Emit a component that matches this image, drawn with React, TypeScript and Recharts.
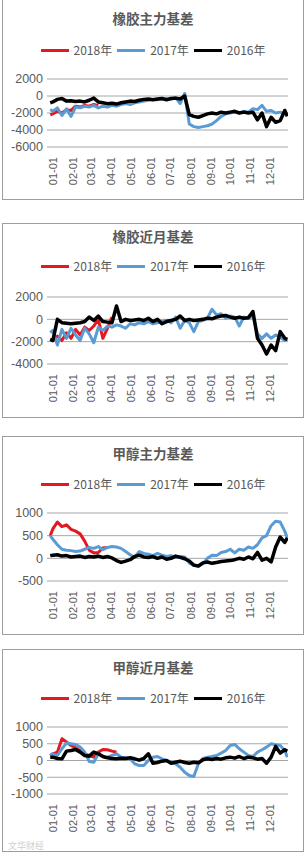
import React from "react";
import { CartesianGrid, Line, LineChart, XAxis, YAxis } from "recharts";

// day of year (0 = Jan 1), weekly samples plus the two edge points
const DAYS = [
  -4, 0, 7, 14, 21, 28, 35, 42, 49, 56, 63, 70, 77, 84, 91, 98, 105, 112, 119,
  126, 133, 140, 147, 154, 161, 168, 175, 182, 189, 196, 203, 210, 217, 224,
  231, 238, 245, 252, 259, 266, 273, 280, 287, 294, 301, 308, 315, 322, 329,
  336, 343, 350, 357, 361,
];

const MONTH_TICKS = [0, 31, 59, 90, 120, 151, 181, 212, 243, 273, 304, 334];
const MONTH_LABELS = [
  "01-01", "02-01", "03-01", "04-01", "05-01", "06-01",
  "07-01", "08-01", "09-01", "10-01", "11-01", "12-01",
];

const SERIES_NAMES = ["2018年", "2017年", "2016年"];
const SERIES_COLORS = ["#e3191f", "#5b9bd5", "#000000"];

// 橡胶主力基差
const RUBBER_MAIN_2018 = [-2200, -2100, -1800, -2000, -1600, -1700, -1200, -1300, -1100, -1200, -1000, -1100];
const RUBBER_MAIN_2017 = [
  -1600, -1800, -1400, -2300, -1500, -2400, -1300, -1400, -1200, -1300, -1100, -1400, -1200, -1300,
  -1100, -1200, -1000, -900, -1000, -800, -700, -600, -500, -400, -450, -350, -300, -350, -200, -900,
  300, -3300, -3600, -3700, -3600, -3500, -3300, -2900, -2400, -2100, -2000, -1900, -2000, -1800,
  -1900, -1500, -1600, -1100, -1800, -1700, -2000, -1900, -2100, -2000,
];
const RUBBER_MAIN_2016 = [
  -800, -700, -400, -300, -600, -550, -650, -600, -700, -500, -250, -700, -800, -900, -850, -950,
  -800, -700, -600, -650, -500, -400, -350, -450, -350, -300, -450, -300, -250, -350, 0, -2200,
  -2400, -2500, -2300, -2100, -2000, -2100, -1900, -2000, -1900, -1800, -2000, -1900, -2000,
  -1900, -2800, -2000, -3600, -2500, -3100, -2900, -1700, -2400,
];

// 橡胶近月基差
const RUBBER_NEAR_2018 = [-1800, -1900, -1500, -1900, -1200, -1700, -900, -1400, -700, -1000, -600, 0, -1700, -800, 200];
const RUBBER_NEAR_2017 = [
  -1200, -1000, -2300, -900, -1700, -800, -1400, -1900, -800, -1300, -2100, -700, -1000, -600,
  -700, -500, -600, -800, -400, -500, -300, -400, -200, -400, -300, -200, -100, -300, 200, -800,
  -100, -300, -1100, -200, -100, 100, 900, 400, 500, 100, 300, 200, -600, 200, 100, 300, -1300,
  -1700, -1300, -1700, -1400, -1600, -1900, -1800,
];
const RUBBER_NEAR_2016 = [
  -1800, -1900, 0, -300, -350, -400, -350, -300, -200, 200, -100, 300, -200, -250, -300, 1200,
  -200, 0, -100, -50, 0, -100, 100, -200, 0, -400, -200, -100, 0, 300, -100, 0, -100, -50, 0,
  100, 50, 200, 300, 350, 200, 100, 200, 100, 150, 700, -1700, -2300, -3100, -2300, -2800, -1100,
  -1700, -1800,
];

// 甲醇主力基差
const METHANOL_MAIN_2018 = [500, 650, 800, 700, 740, 640, 600, 540, 380, 180, 120, 130, 230, 240];
const METHANOL_MAIN_2017 = [
  500, 420, 300, 200, 180, 170, 150, 160, 200, 240, 220, 260, 190, 240, 260, 250, 220, 150, 80,
  20, 150, 110, 90, 60, 110, 70, 40, 60, 20, 40, 30, -100, -160, -170, -120, 0, 70, 60, 130, 150,
  200, 120, 200, 180, 250, 220, 300, 450, 500, 720, 820, 800, 600, 450,
];
const METHANOL_MAIN_2016 = [
  60, 70, 80, 50, 60, 30, 40, 50, 20, 40, 30, 50, 20, 40, 10, -50, -90, -60, -30, 40, 70, 30, 20,
  40, 0, 30, -20, 0, 50, 20, -10, -60, -150, -170, -100, -80, -110, -90, -70, -60, -50, -30, 0,
  -20, 30, -10, 130, -40, 0, -80, 250, 470, 350, 450,
];

// 甲醇近月基差
const METHANOL_NEAR_2018 = [150, 200, 250, 650, 550, 450, 380, 300, 200, 150, 100, 250, 330, 320, 280, 250];
const METHANOL_NEAR_2017 = [
  150, 200, 150, 350, 520, 500, 480, 400, 250, -30, -50, 200, 120, 100, 150, 200, 100, 80, 50,
  -100, -150, -150, 0, 100, 120, 50, 0, -50, -100, -200, -350, -450, -480, -100, 60, 100, 120,
  150, 220, 300, 450, 480, 350, 250, 150, 120, 250, 320, 400, 500, 470, 450, 300, 100,
];
const METHANOL_NEAR_2016 = [
  100, 100, 60, 50, 280, 300, 330, 250, 150, 130, 250, 200, 120, 80, 60, 50, 70, 60, 80, 50, 10,
  60, 200, -80, -60, -20, 0, -80, -50, -20, -60, -80, -50, -70, 20, 50, 30, 60, 40, 80, 100, 70,
  120, 60, 100, 80, 40, 60, -80, 100, 420, 220, 320, 280,
];

const NUM_FONT = "'Liberation Sans', Arial, 'Noto Sans CJK SC', sans-serif";
const CJK_FONT = "'Noto Sans CJK SC', 'Liberation Sans', sans-serif";
const TEXT_COLOR = "#595959";

interface PanelConfig {
  title: string;
  boxTop: number;
  boxBottom: number;
  plotTop: number;
  plotBottom: number;
  titleY: number;
  legendY: number;
  yTicks: number[];
  s2018: number[];
  s2017: number[];
  s2016: number[];
}

const PANELS: PanelConfig[] = [
  {
    title: "橡胶主力基差", boxTop: -2, boxBottom: 199, plotTop: 79, plotBottom: 147,
    titleY: 18, legendY: 50, yTicks: [-6000, -4000, -2000, 0, 2000],
    s2018: RUBBER_MAIN_2018, s2017: RUBBER_MAIN_2017, s2016: RUBBER_MAIN_2016,
  },
  {
    title: "橡胶近月基差", boxTop: 223, boxBottom: 417, plotTop: 297, plotBottom: 364,
    titleY: 236, legendY: 266, yTicks: [-4000, -2000, 0, 2000],
    s2018: RUBBER_NEAR_2018, s2017: RUBBER_NEAR_2017, s2016: RUBBER_NEAR_2016,
  },
  {
    title: "甲醇主力基差", boxTop: 436, boxBottom: 634, plotTop: 513, plotBottom: 581,
    titleY: 453, legendY: 484, yTicks: [-500, 0, 500, 1000],
    s2018: METHANOL_MAIN_2018, s2017: METHANOL_MAIN_2017, s2016: METHANOL_MAIN_2016,
  },
  {
    title: "甲醇近月基差", boxTop: 649, boxBottom: 851, plotTop: 727, plotBottom: 794,
    titleY: 667, legendY: 698, yTicks: [-1000, -500, 0, 500, 1000],
    s2018: METHANOL_NEAR_2018, s2017: METHANOL_NEAR_2017, s2016: METHANOL_NEAR_2016,
  },
];

const MonthTick = (props: any) => {
  const { x, y, payload } = props;
  const label = MONTH_LABELS[MONTH_TICKS.indexOf(payload.value)];
  return (
    <text
      x={x}
      y={y}
      dy="0.36em"
      transform={`rotate(-90 ${x} ${y})`}
      textAnchor="end"
      fontSize={11}
      fontFamily={NUM_FONT}
      fill={TEXT_COLOR}
    >
      {label}
    </text>
  );
};

const Legend = ({ top }: { top: number }) => (
  <div
    style={{
      position: "absolute", left: 2, width: 302, top: top - 8, height: 16,
      display: "flex", justifyContent: "center", alignItems: "center",
      fontFamily: CJK_FONT, fontSize: 12, color: TEXT_COLOR, gap: 5,
    }}
  >
    {SERIES_NAMES.map((name, i) => (
      <div key={name} style={{ display: "flex", alignItems: "center" }}>
        <span style={{ width: 28, height: 3, background: SERIES_COLORS[i], marginRight: 5 }} />
        <span style={{ lineHeight: "16px" }}>{name}</span>
      </div>
    ))}
  </div>
);

const Panel = ({ cfg }: { cfg: PanelConfig }) => {
  const rows = DAYS.map((day, i) => ({
    day,
    y2018: cfg.s2018[i] ?? null,
    y2017: cfg.s2017[i] ?? null,
    y2016: cfg.s2016[i] ?? null,
  }));
  const chartTop = cfg.boxTop + 1;
  const height = cfg.boxBottom - cfg.boxTop - 1;
  const xAxisHeight = 40;
  const margin = {
    top: cfg.plotTop - chartTop,
    right: 15,
    left: 0,
    bottom: height - (cfg.plotBottom - chartTop) - xAxisHeight,
  };
  const yMin = cfg.yTicks[0];
  const yMax = cfg.yTicks[cfg.yTicks.length - 1];

  return (
    <>
      <div
        style={{
          position: "absolute", left: 2, top: cfg.boxTop, width: 302,
          height: cfg.boxBottom - cfg.boxTop + 1, border: "1px solid #9d9d9d",
          boxSizing: "border-box",
        }}
      />
      <div
        style={{
          position: "absolute", left: 2, width: 302, top: cfg.titleY - 10, height: 20,
          lineHeight: "20px", textAlign: "center", fontFamily: CJK_FONT, fontSize: 13.5,
          fontWeight: "bold", color: TEXT_COLOR,
        }}
      >
        {cfg.title}
      </div>
      <Legend top={cfg.legendY} />
      <div style={{ position: "absolute", left: 3, top: chartTop }}>
        <LineChart width={300} height={height} data={rows} margin={margin}>
          <CartesianGrid vertical={false} stroke="#a6a6a6" />
          <XAxis
            dataKey="day"
            type="number"
            domain={[-9, 362]}
            ticks={MONTH_TICKS}
            interval={0}
            allowDataOverflow
            axisLine={false}
            tickLine={false}
            tickSize={0}
            tickMargin={10}
            height={xAxisHeight}
            tick={<MonthTick />}
          />
          <YAxis
            type="number"
            domain={[yMin, yMax]}
            ticks={cfg.yTicks}
            interval={0}
            allowDataOverflow
            width={44}
            axisLine={false}
            tickLine={false}
            tickSize={0}
            tickMargin={4}
            tick={{ fontSize: 12.5, fill: TEXT_COLOR, fontFamily: NUM_FONT }}
          />
          <Line dataKey="y2018" stroke={SERIES_COLORS[0]} strokeWidth={3} dot={false}
            type="linear" isAnimationActive={false} strokeLinejoin="round" />
          <Line dataKey="y2017" stroke={SERIES_COLORS[1]} strokeWidth={3} dot={false}
            type="linear" isAnimationActive={false} strokeLinejoin="round" />
          <Line dataKey="y2016" stroke={SERIES_COLORS[2]} strokeWidth={3.5} dot={false}
            type="linear" isAnimationActive={false} strokeLinejoin="round" />
        </LineChart>
      </div>
    </>
  );
};

export default function App() {
  return (
    <div
      style={{
        position: "absolute", left: 0, top: 0, width: 306, height: 853,
        background: "#ffffff", overflow: "hidden",
      }}
    >
      {PANELS.map((cfg) => (
        <Panel key={cfg.title} cfg={cfg} />
      ))}
      <div
        style={{
          position: "absolute", left: 8, top: 839, fontSize: 9,
          fontFamily: CJK_FONT, color: "#d0d0d0",
        }}
      >
        文华财经
      </div>
    </div>
  );
}
